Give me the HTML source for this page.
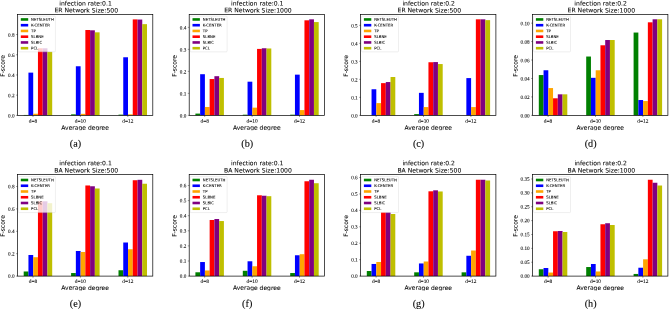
<!DOCTYPE html>
<html><head><meta charset="utf-8"><title>F-score bar charts</title>
<style>
html,body{margin:0;padding:0;background:#fff;}
svg{display:block;}
.sans{font-family:"DejaVu Sans","Liberation Sans",sans-serif;stroke:#000;stroke-width:0.06px;}
.serif{font-family:"Liberation Serif","DejaVu Serif",serif;stroke:#000;stroke-width:0.07px;}
.leg{font-family:"DejaVu Sans","Liberation Sans",sans-serif;stroke:#000;stroke-width:0.07px;}
.cap{stroke:#000;stroke-width:0.1px;}
</style></head><body>
<svg width="669" height="312" viewBox="0 0 669 312">
<rect width="669" height="312" fill="#fff"/>
<g>
<rect x="23.7" y="114.95" width="4.75" height="0.4" fill="#008000"/>
<rect x="28.45" y="72.63" width="4.75" height="42.72" fill="#0000ff"/>
<rect x="33.2" y="113.73" width="4.75" height="1.62" fill="#ffa500"/>
<rect x="37.95" y="48.29" width="4.75" height="67.06" fill="#ff0000"/>
<rect x="42.7" y="48.29" width="4.75" height="67.06" fill="#800080"/>
<rect x="47.45" y="51.72" width="4.75" height="63.63" fill="#bfbf00"/>
<rect x="71.1" y="114.34" width="4.75" height="1.01" fill="#008000"/>
<rect x="75.85" y="66.26" width="4.75" height="49.09" fill="#0000ff"/>
<rect x="80.6" y="113.83" width="4.75" height="1.51" fill="#ffa500"/>
<rect x="85.35" y="30" width="4.75" height="85.34" fill="#ff0000"/>
<rect x="90.1" y="30.31" width="4.75" height="85.04" fill="#800080"/>
<rect x="94.85" y="32.33" width="4.75" height="83.02" fill="#bfbf00"/>
<rect x="118.5" y="114.64" width="4.75" height="0.71" fill="#008000"/>
<rect x="123.25" y="57.27" width="4.75" height="58.07" fill="#0000ff"/>
<rect x="128" y="114.34" width="4.75" height="1.01" fill="#ffa500"/>
<rect x="132.75" y="19.4" width="4.75" height="95.95" fill="#ff0000"/>
<rect x="137.5" y="19.55" width="4.75" height="95.8" fill="#800080"/>
<rect x="142.25" y="24.15" width="4.75" height="91.2" fill="#bfbf00"/>
<rect x="18.4" y="16.15" width="37" height="35.7" rx="0.8" fill="#fff" fill-opacity="0.8" stroke="#ccc" stroke-opacity="0.8" stroke-width="0.4"/>
<rect x="20.8" y="18.15" width="7.4" height="2.6" fill="#008000"/>
<text class="leg" transform="rotate(0.1 31.1 20.8)" x="31.1" y="20.8" font-size="3.85">NETSLEUTH</text>
<rect x="20.8" y="23.9" width="7.4" height="2.6" fill="#0000ff"/>
<text class="leg" transform="rotate(0.1 31.1 26.55)" x="31.1" y="26.55" font-size="3.85">K-CENTER</text>
<rect x="20.8" y="29.65" width="7.4" height="2.6" fill="#ffa500"/>
<text class="leg" transform="rotate(0.1 31.1 32.3)" x="31.1" y="32.3" font-size="3.85">TP</text>
<rect x="20.8" y="35.4" width="7.4" height="2.6" fill="#ff0000"/>
<text class="leg" transform="rotate(0.1 31.1 38.05)" x="31.1" y="38.05" font-size="3.85">SLBNE</text>
<rect x="20.8" y="41.15" width="7.4" height="2.6" fill="#800080"/>
<text class="leg" transform="rotate(0.1 31.1 43.8)" x="31.1" y="43.8" font-size="3.85">SLBIC</text>
<rect x="20.8" y="46.9" width="7.4" height="2.6" fill="#bfbf00"/>
<text class="leg" transform="rotate(0.1 31.1 49.55)" x="31.1" y="49.55" font-size="3.85">PCL</text>
<rect x="17.5" y="14.55" width="135.3" height="100.8" fill="none" stroke="#000" stroke-width="0.7"/>
<line x1="16.1" x2="17.5" y1="115.35" y2="115.35" stroke="#000" stroke-width="0.4"/>
<text class="serif" transform="rotate(0.1 14.6 117.5)" x="14.6" y="117.5" font-size="5.2" text-anchor="end">0.0</text>
<line x1="16.1" x2="17.5" y1="95.15" y2="95.15" stroke="#000" stroke-width="0.4"/>
<text class="serif" transform="rotate(0.1 14.6 97.3)" x="14.6" y="97.3" font-size="5.2" text-anchor="end">0.2</text>
<line x1="16.1" x2="17.5" y1="74.95" y2="74.95" stroke="#000" stroke-width="0.4"/>
<text class="serif" transform="rotate(0.1 14.6 77.1)" x="14.6" y="77.1" font-size="5.2" text-anchor="end">0.4</text>
<line x1="16.1" x2="17.5" y1="54.75" y2="54.75" stroke="#000" stroke-width="0.4"/>
<text class="serif" transform="rotate(0.1 14.6 56.9)" x="14.6" y="56.9" font-size="5.2" text-anchor="end">0.6</text>
<line x1="16.1" x2="17.5" y1="34.55" y2="34.55" stroke="#000" stroke-width="0.4"/>
<text class="serif" transform="rotate(0.1 14.6 36.7)" x="14.6" y="36.7" font-size="5.2" text-anchor="end">0.8</text>
<line x1="33" x2="33" y1="115.35" y2="116.95" stroke="#000" stroke-width="0.4"/>
<text class="serif" transform="rotate(0.1 33 122.85)" x="33" y="122.85" font-size="5.4" text-anchor="middle">d=8</text>
<line x1="80.4" x2="80.4" y1="115.35" y2="116.95" stroke="#000" stroke-width="0.4"/>
<text class="serif" transform="rotate(0.1 80.4 122.85)" x="80.4" y="122.85" font-size="5.4" text-anchor="middle">d=10</text>
<line x1="127.8" x2="127.8" y1="115.35" y2="116.95" stroke="#000" stroke-width="0.4"/>
<text class="serif" transform="rotate(0.1 127.8 122.85)" x="127.8" y="122.85" font-size="5.4" text-anchor="middle">d=12</text>
<text class="sans" transform="rotate(0.1 85.15 129.75)" x="85.15" y="129.75" font-size="6.0" text-anchor="middle">Average degree</text>
<text class="sans" transform="translate(4.8 65.95) rotate(-89.9)" font-size="6.0" text-anchor="middle" fill="#000">F-score</text>
<text class="sans" transform="rotate(0.1 85.55 5.55)" x="85.55" y="5.55" font-size="6.1" text-anchor="middle">infection rate:0.1</text>
<text class="sans" transform="rotate(0.1 86.25 12.4)" x="86.25" y="12.4" font-size="6.1" text-anchor="middle">ER Network Size:500</text>
<rect x="30.15" y="130.25" width="110" height="6" fill="#fff"/>
<text class="serif cap" transform="rotate(0.1 75.5 146.75)" x="75.5" y="146.75" font-size="10.2" text-anchor="middle">(a)</text>
</g>
<g>
<rect x="195.4" y="113.59" width="4.75" height="1.76" fill="#008000"/>
<rect x="200.15" y="74.21" width="4.75" height="41.14" fill="#0000ff"/>
<rect x="204.9" y="106.99" width="4.75" height="8.36" fill="#ffa500"/>
<rect x="209.65" y="79.05" width="4.75" height="36.3" fill="#ff0000"/>
<rect x="214.4" y="76.19" width="4.75" height="39.16" fill="#800080"/>
<rect x="219.15" y="77.95" width="4.75" height="37.4" fill="#bfbf00"/>
<rect x="242.8" y="114.69" width="4.75" height="0.66" fill="#008000"/>
<rect x="247.55" y="81.69" width="4.75" height="33.66" fill="#0000ff"/>
<rect x="252.3" y="107.65" width="4.75" height="7.7" fill="#ffa500"/>
<rect x="257.05" y="48.91" width="4.75" height="66.44" fill="#ff0000"/>
<rect x="261.8" y="48.25" width="4.75" height="67.1" fill="#800080"/>
<rect x="266.55" y="48.47" width="4.75" height="66.88" fill="#bfbf00"/>
<rect x="290.2" y="114.69" width="4.75" height="0.66" fill="#008000"/>
<rect x="294.95" y="74.65" width="4.75" height="40.7" fill="#0000ff"/>
<rect x="299.7" y="110.07" width="4.75" height="5.28" fill="#ffa500"/>
<rect x="304.45" y="20.31" width="4.75" height="95.04" fill="#ff0000"/>
<rect x="309.2" y="19.32" width="4.75" height="96.03" fill="#800080"/>
<rect x="313.95" y="22.07" width="4.75" height="93.28" fill="#bfbf00"/>
<rect x="190.1" y="16.15" width="37" height="35.7" rx="0.8" fill="#fff" fill-opacity="0.8" stroke="#ccc" stroke-opacity="0.8" stroke-width="0.4"/>
<rect x="192.5" y="18.15" width="7.4" height="2.6" fill="#008000"/>
<text class="leg" transform="rotate(0.1 202.8 20.8)" x="202.8" y="20.8" font-size="3.85">NETSLEUTH</text>
<rect x="192.5" y="23.9" width="7.4" height="2.6" fill="#0000ff"/>
<text class="leg" transform="rotate(0.1 202.8 26.55)" x="202.8" y="26.55" font-size="3.85">K-CENTER</text>
<rect x="192.5" y="29.65" width="7.4" height="2.6" fill="#ffa500"/>
<text class="leg" transform="rotate(0.1 202.8 32.3)" x="202.8" y="32.3" font-size="3.85">TP</text>
<rect x="192.5" y="35.4" width="7.4" height="2.6" fill="#ff0000"/>
<text class="leg" transform="rotate(0.1 202.8 38.05)" x="202.8" y="38.05" font-size="3.85">SLBNE</text>
<rect x="192.5" y="41.15" width="7.4" height="2.6" fill="#800080"/>
<text class="leg" transform="rotate(0.1 202.8 43.8)" x="202.8" y="43.8" font-size="3.85">SLBIC</text>
<rect x="192.5" y="46.9" width="7.4" height="2.6" fill="#bfbf00"/>
<text class="leg" transform="rotate(0.1 202.8 49.55)" x="202.8" y="49.55" font-size="3.85">PCL</text>
<rect x="189.2" y="14.55" width="135.3" height="100.8" fill="none" stroke="#000" stroke-width="0.7"/>
<line x1="187.8" x2="189.2" y1="115.35" y2="115.35" stroke="#000" stroke-width="0.4"/>
<text class="serif" transform="rotate(0.1 186.3 117.5)" x="186.3" y="117.5" font-size="5.2" text-anchor="end">0.0</text>
<line x1="187.8" x2="189.2" y1="93.35" y2="93.35" stroke="#000" stroke-width="0.4"/>
<text class="serif" transform="rotate(0.1 186.3 95.5)" x="186.3" y="95.5" font-size="5.2" text-anchor="end">0.1</text>
<line x1="187.8" x2="189.2" y1="71.35" y2="71.35" stroke="#000" stroke-width="0.4"/>
<text class="serif" transform="rotate(0.1 186.3 73.5)" x="186.3" y="73.5" font-size="5.2" text-anchor="end">0.2</text>
<line x1="187.8" x2="189.2" y1="49.35" y2="49.35" stroke="#000" stroke-width="0.4"/>
<text class="serif" transform="rotate(0.1 186.3 51.5)" x="186.3" y="51.5" font-size="5.2" text-anchor="end">0.3</text>
<line x1="187.8" x2="189.2" y1="27.35" y2="27.35" stroke="#000" stroke-width="0.4"/>
<text class="serif" transform="rotate(0.1 186.3 29.5)" x="186.3" y="29.5" font-size="5.2" text-anchor="end">0.4</text>
<line x1="204.7" x2="204.7" y1="115.35" y2="116.95" stroke="#000" stroke-width="0.4"/>
<text class="serif" transform="rotate(0.1 204.7 122.85)" x="204.7" y="122.85" font-size="5.4" text-anchor="middle">d=8</text>
<line x1="252.1" x2="252.1" y1="115.35" y2="116.95" stroke="#000" stroke-width="0.4"/>
<text class="serif" transform="rotate(0.1 252.1 122.85)" x="252.1" y="122.85" font-size="5.4" text-anchor="middle">d=10</text>
<line x1="299.5" x2="299.5" y1="115.35" y2="116.95" stroke="#000" stroke-width="0.4"/>
<text class="serif" transform="rotate(0.1 299.5 122.85)" x="299.5" y="122.85" font-size="5.4" text-anchor="middle">d=12</text>
<text class="sans" transform="rotate(0.1 256.85 129.75)" x="256.85" y="129.75" font-size="6.0" text-anchor="middle">Average degree</text>
<text class="sans" transform="translate(176.5 65.95) rotate(-89.9)" font-size="6.0" text-anchor="middle" fill="#000">F-score</text>
<text class="sans" transform="rotate(0.1 257.25 5.55)" x="257.25" y="5.55" font-size="6.1" text-anchor="middle">infection rate:0.1</text>
<text class="sans" transform="rotate(0.1 257.95 12.4)" x="257.95" y="12.4" font-size="6.1" text-anchor="middle">ER Network Size:1000</text>
<rect x="201.85" y="130.25" width="110" height="6" fill="#fff"/>
<text class="serif cap" transform="rotate(0.1 247.2 146.75)" x="247.2" y="146.75" font-size="10.2" text-anchor="middle">(b)</text>
</g>
<g>
<rect x="371.55" y="89.25" width="4.75" height="26.1" fill="#0000ff"/>
<rect x="376.3" y="103.11" width="4.75" height="12.24" fill="#ffa500"/>
<rect x="381.05" y="83.13" width="4.75" height="32.22" fill="#ff0000"/>
<rect x="385.8" y="82.05" width="4.75" height="33.3" fill="#800080"/>
<rect x="390.55" y="77.01" width="4.75" height="38.34" fill="#bfbf00"/>
<rect x="414.2" y="114.09" width="4.75" height="1.26" fill="#008000"/>
<rect x="418.95" y="92.85" width="4.75" height="22.5" fill="#0000ff"/>
<rect x="423.7" y="107.07" width="4.75" height="8.28" fill="#ffa500"/>
<rect x="428.45" y="62.25" width="4.75" height="53.1" fill="#ff0000"/>
<rect x="433.2" y="62.07" width="4.75" height="53.28" fill="#800080"/>
<rect x="437.95" y="64.05" width="4.75" height="51.3" fill="#bfbf00"/>
<rect x="466.35" y="78.09" width="4.75" height="37.26" fill="#0000ff"/>
<rect x="471.1" y="107.07" width="4.75" height="8.28" fill="#ffa500"/>
<rect x="475.85" y="19.32" width="4.75" height="96.03" fill="#ff0000"/>
<rect x="480.6" y="19.32" width="4.75" height="96.03" fill="#800080"/>
<rect x="485.35" y="20.13" width="4.75" height="95.22" fill="#bfbf00"/>
<rect x="361.5" y="16.15" width="37" height="35.7" rx="0.8" fill="#fff" fill-opacity="0.8" stroke="#ccc" stroke-opacity="0.8" stroke-width="0.4"/>
<rect x="363.9" y="18.15" width="7.4" height="2.6" fill="#008000"/>
<text class="leg" transform="rotate(0.1 374.2 20.8)" x="374.2" y="20.8" font-size="3.85">NETSLEUTH</text>
<rect x="363.9" y="23.9" width="7.4" height="2.6" fill="#0000ff"/>
<text class="leg" transform="rotate(0.1 374.2 26.55)" x="374.2" y="26.55" font-size="3.85">K-CENTER</text>
<rect x="363.9" y="29.65" width="7.4" height="2.6" fill="#ffa500"/>
<text class="leg" transform="rotate(0.1 374.2 32.3)" x="374.2" y="32.3" font-size="3.85">TP</text>
<rect x="363.9" y="35.4" width="7.4" height="2.6" fill="#ff0000"/>
<text class="leg" transform="rotate(0.1 374.2 38.05)" x="374.2" y="38.05" font-size="3.85">SLBNE</text>
<rect x="363.9" y="41.15" width="7.4" height="2.6" fill="#800080"/>
<text class="leg" transform="rotate(0.1 374.2 43.8)" x="374.2" y="43.8" font-size="3.85">SLBIC</text>
<rect x="363.9" y="46.9" width="7.4" height="2.6" fill="#bfbf00"/>
<text class="leg" transform="rotate(0.1 374.2 49.55)" x="374.2" y="49.55" font-size="3.85">PCL</text>
<rect x="360.6" y="14.55" width="135.3" height="100.8" fill="none" stroke="#000" stroke-width="0.7"/>
<line x1="359.2" x2="360.6" y1="115.35" y2="115.35" stroke="#000" stroke-width="0.4"/>
<text class="serif" transform="rotate(0.1 357.7 117.5)" x="357.7" y="117.5" font-size="5.2" text-anchor="end">0.0</text>
<line x1="359.2" x2="360.6" y1="97.35" y2="97.35" stroke="#000" stroke-width="0.4"/>
<text class="serif" transform="rotate(0.1 357.7 99.5)" x="357.7" y="99.5" font-size="5.2" text-anchor="end">0.1</text>
<line x1="359.2" x2="360.6" y1="79.35" y2="79.35" stroke="#000" stroke-width="0.4"/>
<text class="serif" transform="rotate(0.1 357.7 81.5)" x="357.7" y="81.5" font-size="5.2" text-anchor="end">0.2</text>
<line x1="359.2" x2="360.6" y1="61.35" y2="61.35" stroke="#000" stroke-width="0.4"/>
<text class="serif" transform="rotate(0.1 357.7 63.5)" x="357.7" y="63.5" font-size="5.2" text-anchor="end">0.3</text>
<line x1="359.2" x2="360.6" y1="43.35" y2="43.35" stroke="#000" stroke-width="0.4"/>
<text class="serif" transform="rotate(0.1 357.7 45.5)" x="357.7" y="45.5" font-size="5.2" text-anchor="end">0.4</text>
<line x1="359.2" x2="360.6" y1="25.35" y2="25.35" stroke="#000" stroke-width="0.4"/>
<text class="serif" transform="rotate(0.1 357.7 27.5)" x="357.7" y="27.5" font-size="5.2" text-anchor="end">0.5</text>
<line x1="376.1" x2="376.1" y1="115.35" y2="116.95" stroke="#000" stroke-width="0.4"/>
<text class="serif" transform="rotate(0.1 376.1 122.85)" x="376.1" y="122.85" font-size="5.4" text-anchor="middle">d=8</text>
<line x1="423.5" x2="423.5" y1="115.35" y2="116.95" stroke="#000" stroke-width="0.4"/>
<text class="serif" transform="rotate(0.1 423.5 122.85)" x="423.5" y="122.85" font-size="5.4" text-anchor="middle">d=10</text>
<line x1="470.9" x2="470.9" y1="115.35" y2="116.95" stroke="#000" stroke-width="0.4"/>
<text class="serif" transform="rotate(0.1 470.9 122.85)" x="470.9" y="122.85" font-size="5.4" text-anchor="middle">d=12</text>
<text class="sans" transform="rotate(0.1 428.25 129.75)" x="428.25" y="129.75" font-size="6.0" text-anchor="middle">Average degree</text>
<text class="sans" transform="translate(347.9 65.95) rotate(-89.9)" font-size="6.0" text-anchor="middle" fill="#000">F-score</text>
<text class="sans" transform="rotate(0.1 428.65 5.55)" x="428.65" y="5.55" font-size="6.1" text-anchor="middle">infection rate:0.2</text>
<text class="sans" transform="rotate(0.1 429.35 12.4)" x="429.35" y="12.4" font-size="6.1" text-anchor="middle">ER Network Size:500</text>
<rect x="373.25" y="130.25" width="110" height="6" fill="#fff"/>
<text class="serif cap" transform="rotate(0.1 418.6 146.75)" x="418.6" y="146.75" font-size="10.2" text-anchor="middle">(c)</text>
</g>
<g>
<rect x="538.8" y="75.06" width="4.75" height="40.29" fill="#008000"/>
<rect x="543.55" y="70.26" width="4.75" height="45.09" fill="#0000ff"/>
<rect x="548.3" y="88.06" width="4.75" height="27.29" fill="#ffa500"/>
<rect x="553.05" y="98.29" width="4.75" height="17.06" fill="#ff0000"/>
<rect x="557.8" y="94.33" width="4.75" height="21.02" fill="#800080"/>
<rect x="562.55" y="94.33" width="4.75" height="21.02" fill="#bfbf00"/>
<rect x="586.2" y="56.53" width="4.75" height="58.82" fill="#008000"/>
<rect x="590.95" y="77.82" width="4.75" height="37.53" fill="#0000ff"/>
<rect x="595.7" y="70.26" width="4.75" height="45.09" fill="#ffa500"/>
<rect x="600.45" y="45.28" width="4.75" height="70.07" fill="#ff0000"/>
<rect x="605.2" y="40.02" width="4.75" height="75.33" fill="#800080"/>
<rect x="609.95" y="40.02" width="4.75" height="75.33" fill="#bfbf00"/>
<rect x="633.6" y="32.55" width="4.75" height="82.8" fill="#008000"/>
<rect x="638.35" y="100.04" width="4.75" height="15.31" fill="#0000ff"/>
<rect x="643.1" y="101.06" width="4.75" height="14.29" fill="#ffa500"/>
<rect x="647.85" y="22.32" width="4.75" height="93.03" fill="#ff0000"/>
<rect x="652.6" y="19.28" width="4.75" height="96.07" fill="#800080"/>
<rect x="657.35" y="19.28" width="4.75" height="96.07" fill="#bfbf00"/>
<rect x="533.5" y="16.15" width="37" height="35.7" rx="0.8" fill="#fff" fill-opacity="0.8" stroke="#ccc" stroke-opacity="0.8" stroke-width="0.4"/>
<rect x="535.9" y="18.15" width="7.4" height="2.6" fill="#008000"/>
<text class="leg" transform="rotate(0.1 546.2 20.8)" x="546.2" y="20.8" font-size="3.85">NETSLEUTH</text>
<rect x="535.9" y="23.9" width="7.4" height="2.6" fill="#0000ff"/>
<text class="leg" transform="rotate(0.1 546.2 26.55)" x="546.2" y="26.55" font-size="3.85">K-CENTER</text>
<rect x="535.9" y="29.65" width="7.4" height="2.6" fill="#ffa500"/>
<text class="leg" transform="rotate(0.1 546.2 32.3)" x="546.2" y="32.3" font-size="3.85">TP</text>
<rect x="535.9" y="35.4" width="7.4" height="2.6" fill="#ff0000"/>
<text class="leg" transform="rotate(0.1 546.2 38.05)" x="546.2" y="38.05" font-size="3.85">SLBNE</text>
<rect x="535.9" y="41.15" width="7.4" height="2.6" fill="#800080"/>
<text class="leg" transform="rotate(0.1 546.2 43.8)" x="546.2" y="43.8" font-size="3.85">SLBIC</text>
<rect x="535.9" y="46.9" width="7.4" height="2.6" fill="#bfbf00"/>
<text class="leg" transform="rotate(0.1 546.2 49.55)" x="546.2" y="49.55" font-size="3.85">PCL</text>
<rect x="532.6" y="14.55" width="135.3" height="100.8" fill="none" stroke="#000" stroke-width="0.7"/>
<line x1="531.2" x2="532.6" y1="115.35" y2="115.35" stroke="#000" stroke-width="0.4"/>
<text class="serif" transform="rotate(0.1 529.7 117.5)" x="529.7" y="117.5" font-size="5.2" text-anchor="end">0.00</text>
<line x1="531.2" x2="532.6" y1="96.91" y2="96.91" stroke="#000" stroke-width="0.4"/>
<text class="serif" transform="rotate(0.1 529.7 99.06)" x="529.7" y="99.06" font-size="5.2" text-anchor="end">0.02</text>
<line x1="531.2" x2="532.6" y1="78.47" y2="78.47" stroke="#000" stroke-width="0.4"/>
<text class="serif" transform="rotate(0.1 529.7 80.62)" x="529.7" y="80.62" font-size="5.2" text-anchor="end">0.04</text>
<line x1="531.2" x2="532.6" y1="60.03" y2="60.03" stroke="#000" stroke-width="0.4"/>
<text class="serif" transform="rotate(0.1 529.7 62.18)" x="529.7" y="62.18" font-size="5.2" text-anchor="end">0.06</text>
<line x1="531.2" x2="532.6" y1="41.59" y2="41.59" stroke="#000" stroke-width="0.4"/>
<text class="serif" transform="rotate(0.1 529.7 43.74)" x="529.7" y="43.74" font-size="5.2" text-anchor="end">0.08</text>
<line x1="531.2" x2="532.6" y1="23.15" y2="23.15" stroke="#000" stroke-width="0.4"/>
<text class="serif" transform="rotate(0.1 529.7 25.3)" x="529.7" y="25.3" font-size="5.2" text-anchor="end">0.10</text>
<line x1="548.1" x2="548.1" y1="115.35" y2="116.95" stroke="#000" stroke-width="0.4"/>
<text class="serif" transform="rotate(0.1 548.1 122.85)" x="548.1" y="122.85" font-size="5.4" text-anchor="middle">d=8</text>
<line x1="595.5" x2="595.5" y1="115.35" y2="116.95" stroke="#000" stroke-width="0.4"/>
<text class="serif" transform="rotate(0.1 595.5 122.85)" x="595.5" y="122.85" font-size="5.4" text-anchor="middle">d=10</text>
<line x1="642.9" x2="642.9" y1="115.35" y2="116.95" stroke="#000" stroke-width="0.4"/>
<text class="serif" transform="rotate(0.1 642.9 122.85)" x="642.9" y="122.85" font-size="5.4" text-anchor="middle">d=12</text>
<text class="sans" transform="rotate(0.1 600.25 129.75)" x="600.25" y="129.75" font-size="6.0" text-anchor="middle">Average degree</text>
<text class="sans" transform="translate(517.6 65.95) rotate(-89.9)" font-size="6.0" text-anchor="middle" fill="#000">F-score</text>
<text class="sans" transform="rotate(0.1 600.65 5.55)" x="600.65" y="5.55" font-size="6.1" text-anchor="middle">infection rate:0.2</text>
<text class="sans" transform="rotate(0.1 601.35 12.4)" x="601.35" y="12.4" font-size="6.1" text-anchor="middle">ER Network Size:1000</text>
<rect x="545.25" y="130.25" width="110" height="6" fill="#fff"/>
<text class="serif cap" transform="rotate(0.1 590.6 146.75)" x="590.6" y="146.75" font-size="10.2" text-anchor="middle">(d)</text>
</g>
<g>
<rect x="23.7" y="271.48" width="4.75" height="4.62" fill="#008000"/>
<rect x="28.45" y="254.99" width="4.75" height="21.11" fill="#0000ff"/>
<rect x="33.2" y="257.22" width="4.75" height="18.88" fill="#ffa500"/>
<rect x="37.95" y="201.3" width="4.75" height="74.8" fill="#ff0000"/>
<rect x="42.7" y="201.3" width="4.75" height="74.8" fill="#800080"/>
<rect x="47.45" y="203.19" width="4.75" height="72.91" fill="#bfbf00"/>
<rect x="71.1" y="273.04" width="4.75" height="3.06" fill="#008000"/>
<rect x="75.85" y="250.98" width="4.75" height="25.12" fill="#0000ff"/>
<rect x="80.6" y="251.98" width="4.75" height="24.12" fill="#ffa500"/>
<rect x="85.35" y="185.48" width="4.75" height="90.62" fill="#ff0000"/>
<rect x="90.1" y="186.26" width="4.75" height="89.84" fill="#800080"/>
<rect x="94.85" y="188.49" width="4.75" height="87.61" fill="#bfbf00"/>
<rect x="118.5" y="270.25" width="4.75" height="5.85" fill="#008000"/>
<rect x="123.25" y="242.51" width="4.75" height="33.59" fill="#0000ff"/>
<rect x="128" y="249.25" width="4.75" height="26.85" fill="#ffa500"/>
<rect x="132.75" y="180.24" width="4.75" height="95.86" fill="#ff0000"/>
<rect x="137.5" y="179.8" width="4.75" height="96.3" fill="#800080"/>
<rect x="142.25" y="183.75" width="4.75" height="92.35" fill="#bfbf00"/>
<rect x="18.4" y="176.6" width="37" height="36" rx="0.8" fill="#fff" fill-opacity="0.8" stroke="#ccc" stroke-opacity="0.8" stroke-width="0.4"/>
<rect x="20.8" y="178.7" width="7.4" height="2.6" fill="#008000"/>
<text class="leg" transform="rotate(0.1 31.1 181.35)" x="31.1" y="181.35" font-size="3.85">NETSLEUTH</text>
<rect x="20.8" y="184.45" width="7.4" height="2.6" fill="#0000ff"/>
<text class="leg" transform="rotate(0.1 31.1 187.1)" x="31.1" y="187.1" font-size="3.85">K-CENTER</text>
<rect x="20.8" y="190.2" width="7.4" height="2.6" fill="#ffa500"/>
<text class="leg" transform="rotate(0.1 31.1 192.85)" x="31.1" y="192.85" font-size="3.85">TP</text>
<rect x="20.8" y="195.95" width="7.4" height="2.6" fill="#ff0000"/>
<text class="leg" transform="rotate(0.1 31.1 198.6)" x="31.1" y="198.6" font-size="3.85">SLBNE</text>
<rect x="20.8" y="201.7" width="7.4" height="2.6" fill="#800080"/>
<text class="leg" transform="rotate(0.1 31.1 204.35)" x="31.1" y="204.35" font-size="3.85">SLBIC</text>
<rect x="20.8" y="207.45" width="7.4" height="2.6" fill="#bfbf00"/>
<text class="leg" transform="rotate(0.1 31.1 210.1)" x="31.1" y="210.1" font-size="3.85">PCL</text>
<rect x="17.5" y="174.6" width="135.3" height="101.5" fill="none" stroke="#000" stroke-width="0.7"/>
<line x1="16.1" x2="17.5" y1="276.1" y2="276.1" stroke="#000" stroke-width="0.4"/>
<text class="serif" transform="rotate(0.1 14.6 277.85)" x="14.6" y="277.85" font-size="5.2" text-anchor="end">0.0</text>
<line x1="16.1" x2="17.5" y1="253.7" y2="253.7" stroke="#000" stroke-width="0.4"/>
<text class="serif" transform="rotate(0.1 14.6 255.45)" x="14.6" y="255.45" font-size="5.2" text-anchor="end">0.2</text>
<line x1="16.1" x2="17.5" y1="231.3" y2="231.3" stroke="#000" stroke-width="0.4"/>
<text class="serif" transform="rotate(0.1 14.6 233.05)" x="14.6" y="233.05" font-size="5.2" text-anchor="end">0.4</text>
<line x1="16.1" x2="17.5" y1="208.9" y2="208.9" stroke="#000" stroke-width="0.4"/>
<text class="serif" transform="rotate(0.1 14.6 210.65)" x="14.6" y="210.65" font-size="5.2" text-anchor="end">0.6</text>
<line x1="16.1" x2="17.5" y1="186.5" y2="186.5" stroke="#000" stroke-width="0.4"/>
<text class="serif" transform="rotate(0.1 14.6 188.25)" x="14.6" y="188.25" font-size="5.2" text-anchor="end">0.8</text>
<line x1="33" x2="33" y1="276.1" y2="277.7" stroke="#000" stroke-width="0.4"/>
<text class="serif" transform="rotate(0.1 33 282.9)" x="33" y="282.9" font-size="5.4" text-anchor="middle">d=8</text>
<line x1="80.4" x2="80.4" y1="276.1" y2="277.7" stroke="#000" stroke-width="0.4"/>
<text class="serif" transform="rotate(0.1 80.4 282.9)" x="80.4" y="282.9" font-size="5.4" text-anchor="middle">d=10</text>
<line x1="127.8" x2="127.8" y1="276.1" y2="277.7" stroke="#000" stroke-width="0.4"/>
<text class="serif" transform="rotate(0.1 127.8 282.9)" x="127.8" y="282.9" font-size="5.4" text-anchor="middle">d=12</text>
<text class="sans" transform="rotate(0.1 85.15 289.9)" x="85.15" y="289.9" font-size="6.0" text-anchor="middle">Average degree</text>
<text class="sans" transform="translate(4.8 226) rotate(-89.9)" font-size="6.0" text-anchor="middle" fill="#000">F-score</text>
<text class="sans" transform="rotate(0.1 85.55 165.3)" x="85.55" y="165.3" font-size="6.1" text-anchor="middle">infection rate:0.1</text>
<text class="sans" transform="rotate(0.1 86.25 172.45)" x="86.25" y="172.45" font-size="6.1" text-anchor="middle">BA Network Size:500</text>
<rect x="30.15" y="290.7" width="110" height="6" fill="#fff"/>
<text class="serif cap" transform="rotate(0.1 75.5 306.8)" x="75.5" y="306.8" font-size="10.2" text-anchor="middle">(e)</text>
</g>
<g>
<rect x="195.4" y="272.28" width="4.75" height="3.82" fill="#008000"/>
<rect x="200.15" y="262.04" width="4.75" height="14.06" fill="#0000ff"/>
<rect x="204.9" y="270.48" width="4.75" height="5.62" fill="#ffa500"/>
<rect x="209.65" y="219.99" width="4.75" height="56.11" fill="#ff0000"/>
<rect x="214.4" y="219.01" width="4.75" height="57.09" fill="#800080"/>
<rect x="219.15" y="221.05" width="4.75" height="55.05" fill="#bfbf00"/>
<rect x="242.8" y="270.78" width="4.75" height="5.32" fill="#008000"/>
<rect x="247.55" y="261.28" width="4.75" height="14.82" fill="#0000ff"/>
<rect x="252.3" y="266.26" width="4.75" height="9.84" fill="#ffa500"/>
<rect x="257.05" y="195.28" width="4.75" height="80.82" fill="#ff0000"/>
<rect x="261.8" y="195.73" width="4.75" height="80.37" fill="#800080"/>
<rect x="266.55" y="196.18" width="4.75" height="79.92" fill="#bfbf00"/>
<rect x="290.2" y="273.04" width="4.75" height="3.06" fill="#008000"/>
<rect x="294.95" y="255.26" width="4.75" height="20.84" fill="#0000ff"/>
<rect x="299.7" y="254.2" width="4.75" height="21.9" fill="#ffa500"/>
<rect x="304.45" y="181.26" width="4.75" height="94.84" fill="#ff0000"/>
<rect x="309.2" y="179.75" width="4.75" height="96.35" fill="#800080"/>
<rect x="313.95" y="183.22" width="4.75" height="92.88" fill="#bfbf00"/>
<rect x="190.1" y="176.6" width="37" height="36" rx="0.8" fill="#fff" fill-opacity="0.8" stroke="#ccc" stroke-opacity="0.8" stroke-width="0.4"/>
<rect x="192.5" y="178.7" width="7.4" height="2.6" fill="#008000"/>
<text class="leg" transform="rotate(0.1 202.8 181.35)" x="202.8" y="181.35" font-size="3.85">NETSLEUTH</text>
<rect x="192.5" y="184.45" width="7.4" height="2.6" fill="#0000ff"/>
<text class="leg" transform="rotate(0.1 202.8 187.1)" x="202.8" y="187.1" font-size="3.85">K-CENTER</text>
<rect x="192.5" y="190.2" width="7.4" height="2.6" fill="#ffa500"/>
<text class="leg" transform="rotate(0.1 202.8 192.85)" x="202.8" y="192.85" font-size="3.85">TP</text>
<rect x="192.5" y="195.95" width="7.4" height="2.6" fill="#ff0000"/>
<text class="leg" transform="rotate(0.1 202.8 198.6)" x="202.8" y="198.6" font-size="3.85">SLBNE</text>
<rect x="192.5" y="201.7" width="7.4" height="2.6" fill="#800080"/>
<text class="leg" transform="rotate(0.1 202.8 204.35)" x="202.8" y="204.35" font-size="3.85">SLBIC</text>
<rect x="192.5" y="207.45" width="7.4" height="2.6" fill="#bfbf00"/>
<text class="leg" transform="rotate(0.1 202.8 210.1)" x="202.8" y="210.1" font-size="3.85">PCL</text>
<rect x="189.2" y="174.6" width="135.3" height="101.5" fill="none" stroke="#000" stroke-width="0.7"/>
<line x1="187.8" x2="189.2" y1="276.1" y2="276.1" stroke="#000" stroke-width="0.4"/>
<text class="serif" transform="rotate(0.1 186.3 277.85)" x="186.3" y="277.85" font-size="5.2" text-anchor="end">0.0</text>
<line x1="187.8" x2="189.2" y1="261" y2="261" stroke="#000" stroke-width="0.4"/>
<text class="serif" transform="rotate(0.1 186.3 262.75)" x="186.3" y="262.75" font-size="5.2" text-anchor="end">0.1</text>
<line x1="187.8" x2="189.2" y1="245.9" y2="245.9" stroke="#000" stroke-width="0.4"/>
<text class="serif" transform="rotate(0.1 186.3 247.65)" x="186.3" y="247.65" font-size="5.2" text-anchor="end">0.2</text>
<line x1="187.8" x2="189.2" y1="230.8" y2="230.8" stroke="#000" stroke-width="0.4"/>
<text class="serif" transform="rotate(0.1 186.3 232.55)" x="186.3" y="232.55" font-size="5.2" text-anchor="end">0.3</text>
<line x1="187.8" x2="189.2" y1="215.7" y2="215.7" stroke="#000" stroke-width="0.4"/>
<text class="serif" transform="rotate(0.1 186.3 217.45)" x="186.3" y="217.45" font-size="5.2" text-anchor="end">0.4</text>
<line x1="187.8" x2="189.2" y1="200.6" y2="200.6" stroke="#000" stroke-width="0.4"/>
<text class="serif" transform="rotate(0.1 186.3 202.35)" x="186.3" y="202.35" font-size="5.2" text-anchor="end">0.5</text>
<line x1="187.8" x2="189.2" y1="185.5" y2="185.5" stroke="#000" stroke-width="0.4"/>
<text class="serif" transform="rotate(0.1 186.3 187.25)" x="186.3" y="187.25" font-size="5.2" text-anchor="end">0.6</text>
<line x1="204.7" x2="204.7" y1="276.1" y2="277.7" stroke="#000" stroke-width="0.4"/>
<text class="serif" transform="rotate(0.1 204.7 282.9)" x="204.7" y="282.9" font-size="5.4" text-anchor="middle">d=8</text>
<line x1="252.1" x2="252.1" y1="276.1" y2="277.7" stroke="#000" stroke-width="0.4"/>
<text class="serif" transform="rotate(0.1 252.1 282.9)" x="252.1" y="282.9" font-size="5.4" text-anchor="middle">d=10</text>
<line x1="299.5" x2="299.5" y1="276.1" y2="277.7" stroke="#000" stroke-width="0.4"/>
<text class="serif" transform="rotate(0.1 299.5 282.9)" x="299.5" y="282.9" font-size="5.4" text-anchor="middle">d=12</text>
<text class="sans" transform="rotate(0.1 256.85 289.9)" x="256.85" y="289.9" font-size="6.0" text-anchor="middle">Average degree</text>
<text class="sans" transform="translate(176.5 226) rotate(-89.9)" font-size="6.0" text-anchor="middle" fill="#000">F-score</text>
<text class="sans" transform="rotate(0.1 257.25 165.3)" x="257.25" y="165.3" font-size="6.1" text-anchor="middle">infection rate:0.1</text>
<text class="sans" transform="rotate(0.1 257.95 172.45)" x="257.95" y="172.45" font-size="6.1" text-anchor="middle">BA Network Size:1000</text>
<rect x="201.85" y="290.7" width="110" height="6" fill="#fff"/>
<text class="serif cap" transform="rotate(0.1 247.2 306.8)" x="247.2" y="306.8" font-size="10.2" text-anchor="middle">(f)</text>
</g>
<g>
<rect x="366.8" y="271.01" width="4.75" height="5.09" fill="#008000"/>
<rect x="371.55" y="263.96" width="4.75" height="12.14" fill="#0000ff"/>
<rect x="376.3" y="261.99" width="4.75" height="14.11" fill="#ffa500"/>
<rect x="381.05" y="212.3" width="4.75" height="63.8" fill="#ff0000"/>
<rect x="385.8" y="212.3" width="4.75" height="63.8" fill="#800080"/>
<rect x="390.55" y="214" width="4.75" height="62.1" fill="#bfbf00"/>
<rect x="414.2" y="272.32" width="4.75" height="3.78" fill="#008000"/>
<rect x="418.95" y="263.46" width="4.75" height="12.64" fill="#0000ff"/>
<rect x="423.7" y="261.5" width="4.75" height="14.6" fill="#ffa500"/>
<rect x="428.45" y="191.3" width="4.75" height="84.8" fill="#ff0000"/>
<rect x="433.2" y="190.32" width="4.75" height="85.78" fill="#800080"/>
<rect x="437.95" y="191.47" width="4.75" height="84.63" fill="#bfbf00"/>
<rect x="461.6" y="272.32" width="4.75" height="3.78" fill="#008000"/>
<rect x="466.35" y="255.76" width="4.75" height="20.34" fill="#0000ff"/>
<rect x="471.1" y="250.51" width="4.75" height="25.59" fill="#ffa500"/>
<rect x="475.85" y="179.74" width="4.75" height="96.36" fill="#ff0000"/>
<rect x="480.6" y="179.74" width="4.75" height="96.36" fill="#800080"/>
<rect x="485.35" y="180.48" width="4.75" height="95.62" fill="#bfbf00"/>
<rect x="361.5" y="176.6" width="37" height="36" rx="0.8" fill="#fff" fill-opacity="0.8" stroke="#ccc" stroke-opacity="0.8" stroke-width="0.4"/>
<rect x="363.9" y="178.7" width="7.4" height="2.6" fill="#008000"/>
<text class="leg" transform="rotate(0.1 374.2 181.35)" x="374.2" y="181.35" font-size="3.85">NETSLEUTH</text>
<rect x="363.9" y="184.45" width="7.4" height="2.6" fill="#0000ff"/>
<text class="leg" transform="rotate(0.1 374.2 187.1)" x="374.2" y="187.1" font-size="3.85">K-CENTER</text>
<rect x="363.9" y="190.2" width="7.4" height="2.6" fill="#ffa500"/>
<text class="leg" transform="rotate(0.1 374.2 192.85)" x="374.2" y="192.85" font-size="3.85">TP</text>
<rect x="363.9" y="195.95" width="7.4" height="2.6" fill="#ff0000"/>
<text class="leg" transform="rotate(0.1 374.2 198.6)" x="374.2" y="198.6" font-size="3.85">SLBNE</text>
<rect x="363.9" y="201.7" width="7.4" height="2.6" fill="#800080"/>
<text class="leg" transform="rotate(0.1 374.2 204.35)" x="374.2" y="204.35" font-size="3.85">SLBIC</text>
<rect x="363.9" y="207.45" width="7.4" height="2.6" fill="#bfbf00"/>
<text class="leg" transform="rotate(0.1 374.2 210.1)" x="374.2" y="210.1" font-size="3.85">PCL</text>
<rect x="360.6" y="174.6" width="135.3" height="101.5" fill="none" stroke="#000" stroke-width="0.7"/>
<line x1="359.2" x2="360.6" y1="276.1" y2="276.1" stroke="#000" stroke-width="0.4"/>
<text class="serif" transform="rotate(0.1 357.7 277.85)" x="357.7" y="277.85" font-size="5.2" text-anchor="end">0.0</text>
<line x1="359.2" x2="360.6" y1="259.67" y2="259.67" stroke="#000" stroke-width="0.4"/>
<text class="serif" transform="rotate(0.1 357.7 261.42)" x="357.7" y="261.42" font-size="5.2" text-anchor="end">0.1</text>
<line x1="359.2" x2="360.6" y1="243.24" y2="243.24" stroke="#000" stroke-width="0.4"/>
<text class="serif" transform="rotate(0.1 357.7 244.99)" x="357.7" y="244.99" font-size="5.2" text-anchor="end">0.2</text>
<line x1="359.2" x2="360.6" y1="226.81" y2="226.81" stroke="#000" stroke-width="0.4"/>
<text class="serif" transform="rotate(0.1 357.7 228.56)" x="357.7" y="228.56" font-size="5.2" text-anchor="end">0.3</text>
<line x1="359.2" x2="360.6" y1="210.38" y2="210.38" stroke="#000" stroke-width="0.4"/>
<text class="serif" transform="rotate(0.1 357.7 212.13)" x="357.7" y="212.13" font-size="5.2" text-anchor="end">0.4</text>
<line x1="359.2" x2="360.6" y1="193.95" y2="193.95" stroke="#000" stroke-width="0.4"/>
<text class="serif" transform="rotate(0.1 357.7 195.7)" x="357.7" y="195.7" font-size="5.2" text-anchor="end">0.5</text>
<line x1="359.2" x2="360.6" y1="177.52" y2="177.52" stroke="#000" stroke-width="0.4"/>
<text class="serif" transform="rotate(0.1 357.7 179.27)" x="357.7" y="179.27" font-size="5.2" text-anchor="end">0.6</text>
<line x1="376.1" x2="376.1" y1="276.1" y2="277.7" stroke="#000" stroke-width="0.4"/>
<text class="serif" transform="rotate(0.1 376.1 282.9)" x="376.1" y="282.9" font-size="5.4" text-anchor="middle">d=8</text>
<line x1="423.5" x2="423.5" y1="276.1" y2="277.7" stroke="#000" stroke-width="0.4"/>
<text class="serif" transform="rotate(0.1 423.5 282.9)" x="423.5" y="282.9" font-size="5.4" text-anchor="middle">d=10</text>
<line x1="470.9" x2="470.9" y1="276.1" y2="277.7" stroke="#000" stroke-width="0.4"/>
<text class="serif" transform="rotate(0.1 470.9 282.9)" x="470.9" y="282.9" font-size="5.4" text-anchor="middle">d=12</text>
<text class="sans" transform="rotate(0.1 428.25 289.9)" x="428.25" y="289.9" font-size="6.0" text-anchor="middle">Average degree</text>
<text class="sans" transform="translate(347.9 226) rotate(-89.9)" font-size="6.0" text-anchor="middle" fill="#000">F-score</text>
<text class="sans" transform="rotate(0.1 428.65 165.3)" x="428.65" y="165.3" font-size="6.1" text-anchor="middle">infection rate:0.2</text>
<text class="sans" transform="rotate(0.1 429.35 172.45)" x="429.35" y="172.45" font-size="6.1" text-anchor="middle">BA Network Size:500</text>
<rect x="373.25" y="290.7" width="110" height="6" fill="#fff"/>
<text class="serif cap" transform="rotate(0.1 418.6 306.8)" x="418.6" y="306.8" font-size="10.2" text-anchor="middle">(g)</text>
</g>
<g>
<rect x="538.8" y="269.25" width="4.75" height="6.85" fill="#008000"/>
<rect x="543.55" y="268.01" width="4.75" height="8.09" fill="#0000ff"/>
<rect x="548.3" y="272.56" width="4.75" height="3.54" fill="#ffa500"/>
<rect x="553.05" y="231.25" width="4.75" height="44.85" fill="#ff0000"/>
<rect x="557.8" y="231" width="4.75" height="45.1" fill="#800080"/>
<rect x="562.55" y="231.99" width="4.75" height="44.11" fill="#bfbf00"/>
<rect x="586.2" y="267.04" width="4.75" height="9.06" fill="#008000"/>
<rect x="590.95" y="264.01" width="4.75" height="12.09" fill="#0000ff"/>
<rect x="595.7" y="271.46" width="4.75" height="4.64" fill="#ffa500"/>
<rect x="600.45" y="224.26" width="4.75" height="51.84" fill="#ff0000"/>
<rect x="605.2" y="223.24" width="4.75" height="52.86" fill="#800080"/>
<rect x="609.95" y="225.01" width="4.75" height="51.09" fill="#bfbf00"/>
<rect x="633.6" y="273.94" width="4.75" height="2.16" fill="#008000"/>
<rect x="638.35" y="267.73" width="4.75" height="8.37" fill="#0000ff"/>
<rect x="643.1" y="259.32" width="4.75" height="16.78" fill="#ffa500"/>
<rect x="647.85" y="179.75" width="4.75" height="96.35" fill="#ff0000"/>
<rect x="652.6" y="182.75" width="4.75" height="93.35" fill="#800080"/>
<rect x="657.35" y="185.51" width="4.75" height="90.59" fill="#bfbf00"/>
<rect x="533.5" y="176.6" width="37" height="36" rx="0.8" fill="#fff" fill-opacity="0.8" stroke="#ccc" stroke-opacity="0.8" stroke-width="0.4"/>
<rect x="535.9" y="178.7" width="7.4" height="2.6" fill="#008000"/>
<text class="leg" transform="rotate(0.1 546.2 181.35)" x="546.2" y="181.35" font-size="3.85">NETSLEUTH</text>
<rect x="535.9" y="184.45" width="7.4" height="2.6" fill="#0000ff"/>
<text class="leg" transform="rotate(0.1 546.2 187.1)" x="546.2" y="187.1" font-size="3.85">K-CENTER</text>
<rect x="535.9" y="190.2" width="7.4" height="2.6" fill="#ffa500"/>
<text class="leg" transform="rotate(0.1 546.2 192.85)" x="546.2" y="192.85" font-size="3.85">TP</text>
<rect x="535.9" y="195.95" width="7.4" height="2.6" fill="#ff0000"/>
<text class="leg" transform="rotate(0.1 546.2 198.6)" x="546.2" y="198.6" font-size="3.85">SLBNE</text>
<rect x="535.9" y="201.7" width="7.4" height="2.6" fill="#800080"/>
<text class="leg" transform="rotate(0.1 546.2 204.35)" x="546.2" y="204.35" font-size="3.85">SLBIC</text>
<rect x="535.9" y="207.45" width="7.4" height="2.6" fill="#bfbf00"/>
<text class="leg" transform="rotate(0.1 546.2 210.1)" x="546.2" y="210.1" font-size="3.85">PCL</text>
<rect x="532.6" y="174.6" width="135.3" height="101.5" fill="none" stroke="#000" stroke-width="0.7"/>
<line x1="531.2" x2="532.6" y1="276.1" y2="276.1" stroke="#000" stroke-width="0.4"/>
<text class="serif" transform="rotate(0.1 529.7 277.85)" x="529.7" y="277.85" font-size="5.2" text-anchor="end">0.00</text>
<line x1="531.2" x2="532.6" y1="262.23" y2="262.23" stroke="#000" stroke-width="0.4"/>
<text class="serif" transform="rotate(0.1 529.7 263.98)" x="529.7" y="263.98" font-size="5.2" text-anchor="end">0.05</text>
<line x1="531.2" x2="532.6" y1="248.36" y2="248.36" stroke="#000" stroke-width="0.4"/>
<text class="serif" transform="rotate(0.1 529.7 250.11)" x="529.7" y="250.11" font-size="5.2" text-anchor="end">0.10</text>
<line x1="531.2" x2="532.6" y1="234.49" y2="234.49" stroke="#000" stroke-width="0.4"/>
<text class="serif" transform="rotate(0.1 529.7 236.24)" x="529.7" y="236.24" font-size="5.2" text-anchor="end">0.15</text>
<line x1="531.2" x2="532.6" y1="220.62" y2="220.62" stroke="#000" stroke-width="0.4"/>
<text class="serif" transform="rotate(0.1 529.7 222.37)" x="529.7" y="222.37" font-size="5.2" text-anchor="end">0.20</text>
<line x1="531.2" x2="532.6" y1="206.75" y2="206.75" stroke="#000" stroke-width="0.4"/>
<text class="serif" transform="rotate(0.1 529.7 208.5)" x="529.7" y="208.5" font-size="5.2" text-anchor="end">0.25</text>
<line x1="531.2" x2="532.6" y1="192.88" y2="192.88" stroke="#000" stroke-width="0.4"/>
<text class="serif" transform="rotate(0.1 529.7 194.63)" x="529.7" y="194.63" font-size="5.2" text-anchor="end">0.30</text>
<line x1="531.2" x2="532.6" y1="179.01" y2="179.01" stroke="#000" stroke-width="0.4"/>
<text class="serif" transform="rotate(0.1 529.7 180.76)" x="529.7" y="180.76" font-size="5.2" text-anchor="end">0.35</text>
<line x1="548.1" x2="548.1" y1="276.1" y2="277.7" stroke="#000" stroke-width="0.4"/>
<text class="serif" transform="rotate(0.1 548.1 282.9)" x="548.1" y="282.9" font-size="5.4" text-anchor="middle">d=8</text>
<line x1="595.5" x2="595.5" y1="276.1" y2="277.7" stroke="#000" stroke-width="0.4"/>
<text class="serif" transform="rotate(0.1 595.5 282.9)" x="595.5" y="282.9" font-size="5.4" text-anchor="middle">d=10</text>
<line x1="642.9" x2="642.9" y1="276.1" y2="277.7" stroke="#000" stroke-width="0.4"/>
<text class="serif" transform="rotate(0.1 642.9 282.9)" x="642.9" y="282.9" font-size="5.4" text-anchor="middle">d=12</text>
<text class="sans" transform="rotate(0.1 600.25 289.9)" x="600.25" y="289.9" font-size="6.0" text-anchor="middle">Average degree</text>
<text class="sans" transform="translate(517.6 226) rotate(-89.9)" font-size="6.0" text-anchor="middle" fill="#000">F-score</text>
<text class="sans" transform="rotate(0.1 600.65 165.3)" x="600.65" y="165.3" font-size="6.1" text-anchor="middle">infection rate:0.2</text>
<text class="sans" transform="rotate(0.1 601.35 172.45)" x="601.35" y="172.45" font-size="6.1" text-anchor="middle">BA Network Size:1000</text>
<rect x="545.25" y="290.7" width="110" height="6" fill="#fff"/>
<text class="serif cap" transform="rotate(0.1 590.6 306.8)" x="590.6" y="306.8" font-size="10.2" text-anchor="middle">(h)</text>
</g>
</svg>
</body></html>
